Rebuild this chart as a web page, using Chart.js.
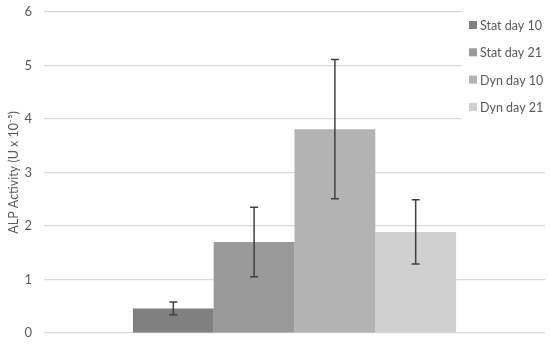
<!DOCTYPE html>
<html>
<head>
<meta charset="utf-8">
<script src="https://cdn.jsdelivr.net/npm/chart.js@4"></script>
<style>
  body { margin: 0; background: #fff; }
</style>
</head>
<body>
<canvas id="myChart" width="550" height="344"></canvas>
<script>
const categories = [''];
const seriesNames = ['Stat day 10', 'Stat day 21', 'Dyn day 10', 'Dyn day 21'];
const seriesValues = [0.46, 1.70, 3.81, 1.89];
const seriesErrors = [0.12, 0.65, 1.30, 0.60];
const seriesColors = ['#808080', '#999999', '#b3b3b3', '#d0d0d0'];
const yTicks = [0, 1, 2, 3, 4, 5, 6];

const fontFamily = 'Lato, "Open Sans", sans-serif';

// error bars drawn on top of the bars, from the value scale
const errorBars = {
    id: 'errorBars',
    afterDatasetsDraw(chart) {
        const ctx = chart.ctx;
        const y = chart.scales.y;
        ctx.save();
        ctx.strokeStyle = '#404040';
        ctx.lineWidth = 1.5;
        chart.data.datasets.forEach((ds, i) => {
            const bar = chart.getDatasetMeta(i).data[0];
            const v = ds.data[0];
            const e = seriesErrors[i];
            const top = y.getPixelForValue(v + e);
            const bottom = y.getPixelForValue(v - e);
            ctx.beginPath();
            ctx.moveTo(bar.x, top);
            ctx.lineTo(bar.x, bottom);
            ctx.moveTo(bar.x - 4, top);
            ctx.lineTo(bar.x + 4, top);
            ctx.moveTo(bar.x - 4, bottom);
            ctx.lineTo(bar.x + 4, bottom);
            ctx.stroke();
        });
        ctx.restore();
    }
};

// legend box sitting over the top right of the plot
const overlayLegend = {
    id: 'overlayLegend',
    afterDraw(chart) {
        const ctx = chart.ctx;
        ctx.save();
        ctx.fillStyle = '#ffffff';
        ctx.fillRect(462, 0, 88, 126);
        ctx.font = '12.5px ' + fontFamily;
        ctx.textBaseline = 'middle';
        seriesNames.forEach((name, i) => {
            const cy = 25 + i * 27.3;
            ctx.fillStyle = seriesColors[i];
            ctx.fillRect(469, cy - 4, 8, 8);
            ctx.fillStyle = '#595959';
            ctx.fillText(name, 480, cy + 1);
        });
        ctx.restore();
    }
};

const ctx = document.getElementById('myChart').getContext('2d');
const myChart = new Chart(ctx, {
    type: 'bar',
    data: {
        labels: categories,
        datasets: seriesNames.map((name, i) => ({
            label: name,
            data: [seriesValues[i]],
            backgroundColor: seriesColors[i],
            borderWidth: 0,
            categoryPercentage: 0.645,
            barPercentage: 1
        }))
    },
    options: {
        responsive: false,
        animation: false,
        layout: { padding: { top: 12, bottom: 11, left: 0, right: 5 } },
        plugins: {
            legend: { display: false },
            tooltip: { enabled: false }
        },
        scales: {
            x: {
                display: false
            },
            y: {
                min: 0,
                max: 6,
                afterBuildTicks: (axis) => { axis.ticks = yTicks.map(v => ({ value: v })); },
                afterFit: (axis) => {
                    axis.width = 44;
                    axis.paddingTop = 0;
                    axis.paddingBottom = 0;
                },
                grid: { color: '#d9d9d9', lineWidth: 1.2, drawTicks: false },
                border: { display: false },
                ticks: {
                    color: '#595959',
                    padding: 12,
                    font: { family: fontFamily, size: 13 }
                },
                title: {
                    display: true,
                    text: 'ALP Activity (U x 10\u207B\u2075)',
                    color: '#595959',
                    padding: { top: 6, bottom: 0 },
                    font: { family: fontFamily, size: 12.5 }
                }
            }
        }
    },
    plugins: [errorBars, overlayLegend]
});
</script>
</body>
</html>
